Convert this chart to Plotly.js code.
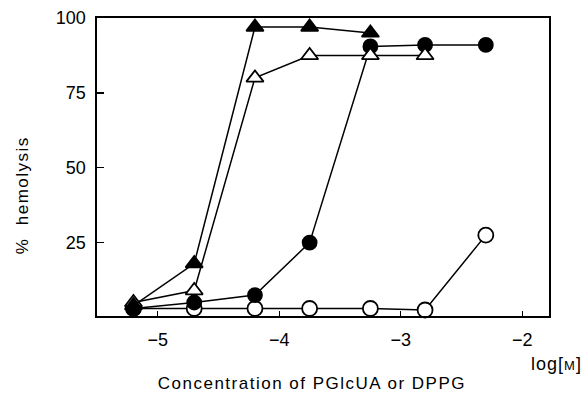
<!DOCTYPE html>
<html><head><meta charset="utf-8">
<script src="https://cdn.plot.ly/plotly-3.0.1.min.js"></script>
<style>
html,body{margin:0;padding:0;background:#fff}#c{width:586px;height:399px}
.spaced text{letter-spacing:1.5px}
.spaced2 text{letter-spacing:1px}
</style>
</head><body><div id="c"></div>
<script>
const logConc = [-5.2, -4.7, -4.2, -3.75, -3.25, -2.8, -2.3];
const filledTriangle = [4, 18, 97, 97, 95];
const openTriangle = [5, 9, 80, 87.5, 87.5, 87.5];
const filledCircle = [3, 5, 7.5, 25, 90.5, 91, 91];
const openCircle = [3, 3, 3, 3, 3, 2.5, 27.5];
const yTicks = [25, 50, 75, 100];
const xTicks = [-5, -4, -3, -2];

function tr(y, sym, fill, size) {
  return {x: logConc.slice(0, y.length), y: y, mode: 'lines+markers', type: 'scatter',
    line: {color: '#000', width: 1.5},
    marker: {symbol: sym, size: size, color: fill, line: {color: '#000', width: 1.8}},
    showlegend: false, cliponaxis: false};
}
const data = [
  tr(openCircle, 'circle', '#fff', 15),
  tr(filledCircle, 'circle', '#000', 14),
  tr(openTriangle, 'triangle-up', '#fff', 15),
  tr(filledTriangle, 'triangle-up', '#000', 15)
];
const fam = 'Liberation Sans, Arial, sans-serif';
const layout = {
  width: 586, height: 399,
  margin: {l: 97, r: 37, t: 18, b: 83},
  paper_bgcolor: '#fff', plot_bgcolor: '#fff',
  font: {family: fam, color: '#000'},
  xaxis: {range: [-5.5, -1.78], tickvals: xTicks, ticktext: xTicks.map(v => '\u2212' + Math.abs(v)),
    ticks: 'inside', ticklen: 5, tickwidth: 1.3, tickcolor: '#000',
    showline: true, linecolor: '#000', linewidth: 1.6, mirror: true, showgrid: false, zeroline: false,
    tickfont: {size: 18, family: fam}, ticklabelstandoff: 7},
  yaxis: {range: [0.5, 100], tickvals: yTicks,
    ticks: 'inside', ticklen: 7, tickwidth: 1.3, tickcolor: '#000',
    showline: true, linecolor: '#000', linewidth: 1.6, mirror: true, showgrid: false, zeroline: false,
    tickfont: {size: 18, family: fam}, ticklabelstandoff: 6},
  annotations: [
    {xref: 'paper', yref: 'paper', x: 1.07, y: -0.12, xanchor: 'right', yanchor: 'top',
     text: 'log[<span style="font-size:13px">M</span>]', showarrow: false, font: {size: 18, family: fam}},
    {xref: 'paper', yref: 'paper', x: 0.475, y: -0.228, xanchor: 'center', yanchor: 'middle',
     text: 'Concentration of PGlcUA or DPPG', showarrow: false, font: {size: 17, family: fam}},
    {xref: 'paper', yref: 'paper', x: -0.166, y: 0.405, xanchor: 'center', yanchor: 'middle', textangle: -90,
     text: '%  hemolysis', showarrow: false, font: {size: 17, family: fam}}
  ]
};
Plotly.newPlot('c', data, layout, {staticPlot: true}).then(() => {
  const anns = document.querySelectorAll('.annotation');
  if (anns[0]) anns[0].classList.add('spaced2');
  if (anns[1]) anns[1].classList.add('spaced');
  if (anns[2]) anns[2].classList.add('spaced');
});
</script></body></html>
